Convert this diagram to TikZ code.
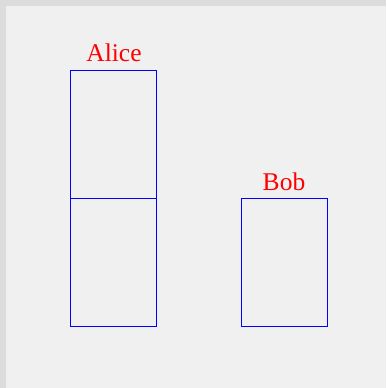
\documentclass[tikz,border=0pt]{standalone}
\usepackage{fontspec}
\setmainfont{Liberation Serif}
\definecolor{bgc}{HTML}{F0F0F0}
\definecolor{edgec}{HTML}{DCDCDC}
\definecolor{boxc}{HTML}{0000FF}
\definecolor{lblc}{HTML}{FF0000}
\begin{document}
\begin{tikzpicture}[x=1pt,y=-1pt,
  cell/.style={draw=boxc,line width=1pt,minimum width=86pt,minimum height=128pt,inner sep=0pt,outer sep=0pt,anchor=north west},
  lbl/.style={text=lblc,font=\fontsize{25.5pt}{30pt}\selectfont,inner sep=0pt,anchor=base}]
\useasboundingbox (0,0) rectangle (386,388);
\fill[edgec] (0,0) rectangle (386,388);
\fill[bgc] (6,6) rectangle (386,388);
\node[cell] (a1) at (70,70) {};
\node[cell] (a2) at (70,198) {};
\node[cell] (b1) at (241,198) {};
\node[lbl] (la) at (114,61) {Alice};
\node[lbl] (lb) at (284,190) {Bob};
\end{tikzpicture}
\end{document}
